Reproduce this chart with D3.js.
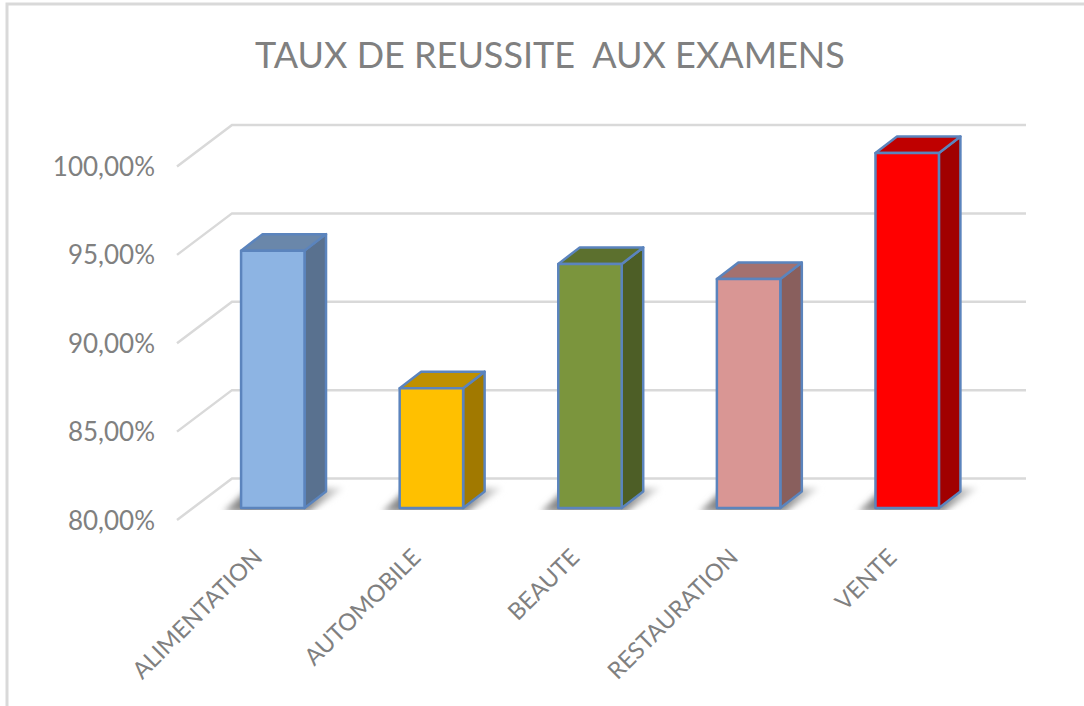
<!DOCTYPE html>
<html>
<head>
<meta charset="utf-8">
<script src="https://cdn.jsdelivr.net/npm/d3@7"></script>
<style>
body { margin: 0; background: white; }
text { font-family: Lato, "Open Sans", sans-serif; fill: #808080; }
</style>
</head>
<body>
<div id="chart"></div>
<script>
let categories = ["ALIMENTATION", "AUTOMOBILE", "BEAUTE", "RESTAURATION", "VENTE"];
let values = [94.5, 86.75, 93.75, 92.9, 100.0];
let yTicks = [80, 85, 90, 95, 100];
let barColors = ["#8db4e3", "#ffc000", "#7b953d", "#d99694", "#ff0000"];
let title = "TAUX DE REUSSITE  AUX EXAMENS";

let width = 1084, height = 706;

let svg = d3.select("#chart").append("svg")
    .attr("width", width)
    .attr("height", height)
    .style("display", "block");

// frame of the pasted picture: only top and left are visible
svg.append("path")
    .attr("d", "M7,706V4H1084")
    .attr("fill", "none")
    .attr("stroke", "#d9d9d9")
    .attr("stroke-width", 3);

svg.append("text")
    .text(title)
    .attr("x", 550)
    .attr("y", 68)
    .attr("text-anchor", "middle")
    .style("white-space", "pre")
    .style("font-size", "36px");

// the 3d box: back wall, label plane and front of the bars each have their own range
let yBack = d3.scaleLinear().domain([80, 100]).range([478.5, 125]);
let yLabel = d3.scaleLinear().domain([80, 100]).range([521, 167]);
let yBar = d3.scaleLinear().domain([80, 100]).range([508, 153]);
let x = d3.scaleBand().domain(categories).range([193.5, 986.5])
    .paddingInner(0.6).paddingOuter(0.3);

let wallDepth = {dx: 55, dy: 41.5};
let barDepth = {dx: 21.5, dy: 16.5};

let defs = svg.append("defs");
defs.append("filter").attr("id", "blur")
    .attr("x", "-30%").attr("width", "160%").attr("y", "-50%").attr("height", "200%")
    .append("feGaussianBlur").attr("stdDeviation", 3);
defs.append("clipPath").attr("id", "floor")
    .append("rect").attr("x", 0).attr("y", 440).attr("width", width).attr("height", 70);
let grad = defs.append("linearGradient").attr("id", "shadow");
grad.append("stop").attr("offset", "0%").attr("stop-color", "#aaa");
grad.append("stop").attr("offset", "20%").attr("stop-color", "#777");
grad.append("stop").attr("offset", "70%").attr("stop-color", "#888");
grad.append("stop").attr("offset", "100%").attr("stop-color", "#eee");

// gridlines
let grid = svg.append("g");
grid.selectAll("path")
    .data(yTicks)
    .enter()
    .append("path")
    .attr("d", d => {
        let yy = yBack(d);
        return "M" + (232 - wallDepth.dx) + "," + (yy + wallDepth.dy) + "L232," + yy + "H1026";
    })
    .attr("fill", "none")
    .attr("stroke", "#d9d9d9")
    .attr("stroke-width", 2.5);

// y labels
let yAxis = svg.append("g")
    .attr("transform", "translate(155,0)")
    .call(d3.axisLeft(yLabel)
        .tickValues(yTicks)
        .tickSize(0)
        .tickPadding(0)
        .tickFormat(d => d3.format(".2f")(d).replace(".", ",") + "%"));
yAxis.select(".domain").remove();
yAxis.selectAll("text")
    .style("font-size", "26px")
    .style("font-family", "Lato, sans-serif")
    .attr("fill", null);

// x labels
let xAxis = svg.append("g")
    .attr("transform", "translate(0,553)")
    .call(d3.axisBottom(x).tickSize(0));
xAxis.select(".domain").remove();
xAxis.selectAll("text")
    .attr("y", 0)
    .attr("dy", "0.35em")
    .attr("text-anchor", "end")
    .attr("transform", "translate(-15,0) rotate(-45)")
    .style("font-size", "23.5px")
    .style("font-family", "Lato, sans-serif")
    .attr("fill", null);

function shade(color, k) {
    let c = d3.rgb(color);
    return d3.rgb(c.r * k, c.g * k, c.b * k).formatHex();
}

let data = categories.map((c, i) => ({name: c, value: values[i], color: barColors[i]}));

// floor shadows
svg.append("g").attr("clip-path", "url(#floor)")
    .selectAll("polygon")
    .data(data)
    .enter()
    .append("polygon")
    .attr("points", d => {
        let x0 = x(d.name), x1 = x0 + x.bandwidth(), b = yBar(80);
        return [[x0 - 18, b + 4], [x0 + 8, b - 20], [x1 + barDepth.dx + 18, b - 20], [x1 + 4, b + 4]].join(" ");
    })
    .attr("fill", "url(#shadow)")
    .attr("filter", "url(#blur)");

let bars = svg.append("g").selectAll("g")
    .data(data)
    .enter()
    .append("g");

function outline(sel) {
    sel.attr("stroke", "#5b84bd")
        .attr("stroke-width", 2.5)
        .attr("stroke-linejoin", "round");
}

// side face
bars.append("polygon")
    .attr("points", d => {
        let x1 = x(d.name) + x.bandwidth(), t = yBar(d.value), b = yBar(80);
        return [[x1, t], [x1 + barDepth.dx, t - barDepth.dy], [x1 + barDepth.dx, b - barDepth.dy], [x1, b]].join(" ");
    })
    .attr("fill", d => shade(d.color, 0.63))
    .call(outline);

// top face
bars.append("polygon")
    .attr("points", d => {
        let x0 = x(d.name), x1 = x0 + x.bandwidth(), t = yBar(d.value);
        return [[x0, t], [x0 + barDepth.dx, t - barDepth.dy], [x1 + barDepth.dx, t - barDepth.dy], [x1, t]].join(" ");
    })
    .attr("fill", d => shade(d.color, 0.75))
    .call(outline);

// front face
bars.append("rect")
    .attr("x", d => x(d.name))
    .attr("y", d => yBar(d.value))
    .attr("width", x.bandwidth())
    .attr("height", d => yBar(80) - yBar(d.value))
    .attr("fill", d => d.color)
    .call(outline);
</script>
</body>
</html>
